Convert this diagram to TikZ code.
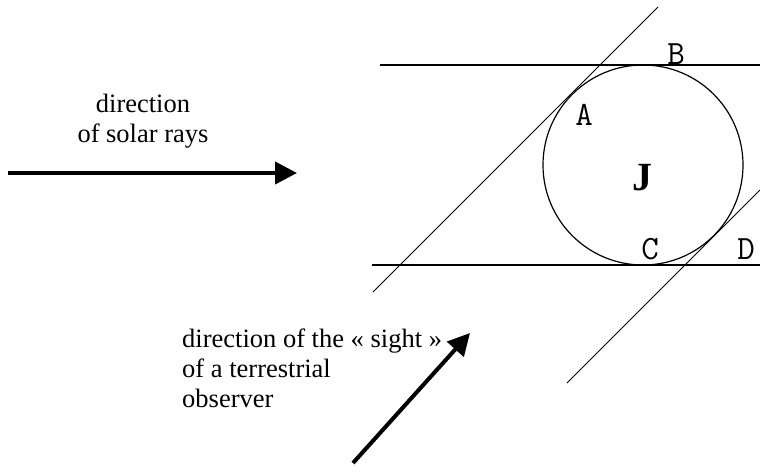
\documentclass[tikz,border=0pt]{standalone}
\usepackage{fontspec}
\setmainfont{Liberation Serif}
\usepackage{tikz}
\usetikzlibrary{
	arrows.meta,
	positioning
}
\tikzset{
	bigarrow/.style={line width=4pt, -{Triangle[length=22pt, width=22pt]}},
	ptlabel/.style={font=\ttfamily\fontsize{34}{34}\selectfont, inner sep=0pt},
	txtlabel/.style={font=\fontsize{26.5}{30}\selectfont, inner sep=0pt},
}
\begin{document}
\begin{tikzpicture}[x=1pt, y=-1pt]
	\useasboundingbox (0,0) rectangle (760,472);
	
	% the planet and the two horizontal rays
	\node[circle, draw, line width=1.2pt, minimum size=200pt, inner sep=0pt] (jupiter) at (643,165) {};
	\draw[line width=1.6pt] (380,65) -- (760,65);
	\draw[line width=1.6pt] (372,265) -- (760,265);
	
	% lines of sight, tangent to the circle
	\draw[line width=1pt] (373,292) -- (658,7);
	\draw[line width=1pt] (567,383) -- (760,190);
	
	% points
	\node[ptlabel] (A) at (584,115) {A};
	\node[ptlabel] (B) at (676,54) {B};
	\node[ptlabel] (C) at (650,249) {C};
	\node[ptlabel] (D) at (746,249) {D};
	\node[font=\bfseries\fontsize{40}{40}\selectfont, inner sep=0pt] (J) at (642,178) {J};
	
	% solar rays
	\node[txtlabel, anchor=north, align=center] (solar) at (143,94) {direction\\of solar rays};
	\coordinate (solar start) at (8,173);
	\coordinate (solar end) at (297,173);
	\draw[bigarrow] (solar start) -- (solar end);
	
	% terrestrial observer
	\node[txtlabel, anchor=north west, align=left] (sight) at (182,329) {direction of the « sight »\\of a terrestrial\\observer};
	\coordinate (sight start) at (353,463);
	\coordinate (sight end) at (470,333);
	\draw[bigarrow] (sight start) -- (sight end);
\end{tikzpicture}
\end{document}
